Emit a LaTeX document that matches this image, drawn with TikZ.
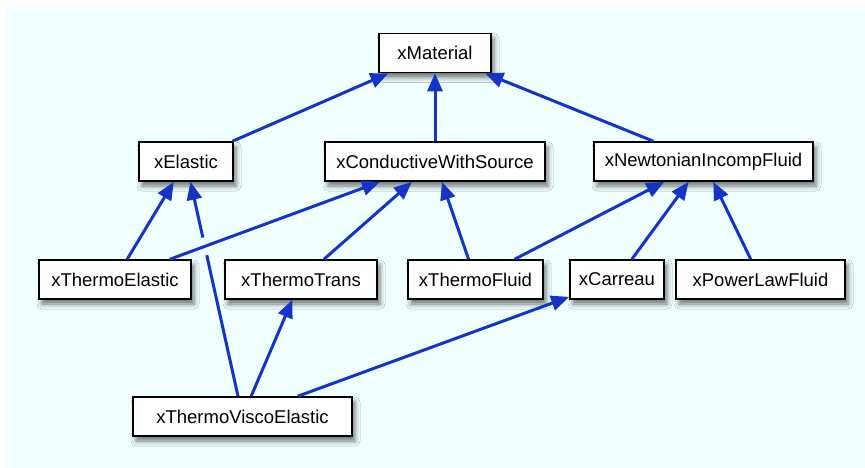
\documentclass[tikz,border=0pt]{standalone}
\usepackage{fontspec}
\setmainfont{Liberation Sans}
\usetikzlibrary{arrows.meta,shadows.blur,intersections,calc}
\definecolor{bgcyan}{HTML}{F0FFFF}
\definecolor{edgeblue}{HTML}{1434C8}
\tikzset{
  cls/.style={draw=black, line width=1.6pt, fill=white, inner sep=0pt,
    minimum height=39pt, font=\fontsize{18.5}{22}\selectfont,
    blur shadow={shadow xshift=3pt, shadow yshift=-5pt, shadow blur radius=5pt, shadow opacity=55}},
  link/.style={draw=edgeblue, line width=3pt},
  inh/.style={link, -{Triangle[length=18pt,width=15pt]}}
}
\begin{document}
\begin{tikzpicture}[x=1pt,y=-1pt]
\useasboundingbox (0,0) rectangle (865,468);
\fill[bgcyan] (6,7) rectangle (865,468);
% nodes
\node[cls, minimum width=112pt] (mat) at (435,53) {xMaterial};
\node[cls, minimum width=94pt] (el) at (186,161.5) {xElastic};
\node[cls, minimum width=220pt] (cws) at (435,161.5) {xConductiveWithSource};
\node[cls, minimum width=219pt] (nif) at (703.5,161.5) {xNewtonianIncompFluid};
\node[cls, minimum width=152pt] (te) at (115,279.5) {xThermoElastic};
\node[cls, minimum width=152pt] (tt) at (301,279.5) {xThermoTrans};
\node[cls, minimum width=135pt] (tf) at (475.5,279.5) {xThermoFluid};
\node[cls, minimum width=94pt] (car) at (617,279.5) {xCarreau};
\node[cls, minimum width=169pt] (plf) at (760.5,279.5) {xPowerLawFluid};
\node[cls, minimum width=219pt] (tve) at (242.5,416.5) {xThermoViscoElastic};
% edges
\draw[inh] (el) -- (mat);
\draw[inh] (cws) -- (mat);
\draw[inh] (nif) -- (mat);
\draw[inh] (te) -- (el);
\draw[inh] (te) -- (cws);
\draw[inh] (tt) -- (cws);
\draw[inh] (tf) -- (cws);
\draw[inh] (tf) -- (nif);
\draw[inh] (car) -- (nif);
\draw[inh] (plf) -- (nif);
\draw[inh] (tve) -- (tt);
\draw[inh] (tve) -- (car);
% edge passing under the xThermoElastic -> xConductiveWithSource edge
\path[name path=pa] (tve) -- (el);
\path[name path=pb] (te) -- (cws);
\path[name intersections={of=pa and pb, by=X}];
\draw[link] (tve) -- ($(X)!9pt!(tve)$);
\draw[inh] ($(X)!9pt!(el)$) -- (el);
\end{tikzpicture}
\end{document}
